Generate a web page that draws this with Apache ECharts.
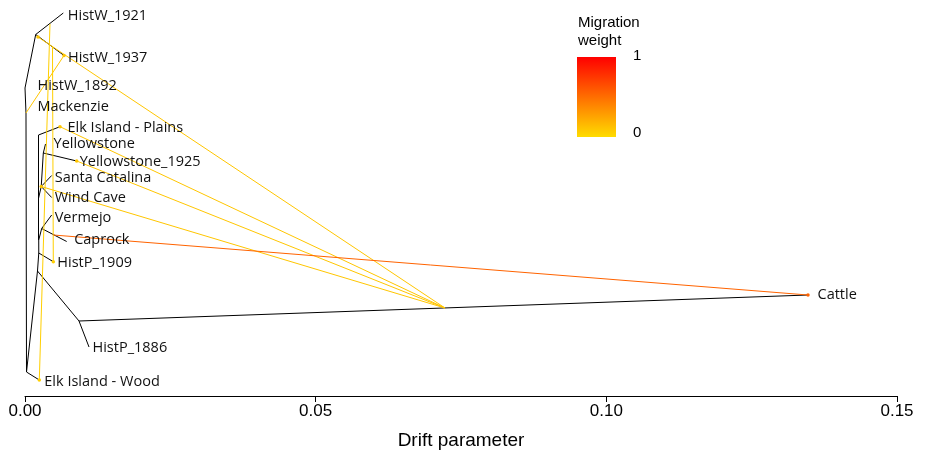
<!DOCTYPE html>
<html><head><meta charset="utf-8">
<script src="https://cdn.jsdelivr.net/npm/echarts@6/dist/echarts.min.js"></script>
<style>html,body{margin:0;padding:0;background:#fff}#c{width:926px;height:455px}</style>
</head><body><div id="c"></div>
<script>
// ---- tree nodes (drift parameter, vertical layout position) ----
const nodeNames = ['R','T1','C','A','HistW_1921','HistW_1937','HistW_1892','Mackenzie','Elk Island - Wood','E','F','HistP_1886','Cattle','L','Elk Island - Plains','V1','N','Santa Catalina','Wind Cave','O','Yellowstone','Yellowstone_1925','V2','I','Vermejo','Caprock','V3','HistP_1909'];
const nodeDrift = [0.00026,0.00017,0.00000,0.00184,0.00659,0.00671,0.00120,0.00120,0.00246,0.00215,0.00929,0.01101,0.13469,0.00232,0.00602,0.00234,0.00279,0.00459,0.00459,0.00315,0.00353,0.00889,0.00236,0.00287,0.00459,0.00717,0.00237,0.00487];
const nodeY     = [372,113,88,34.5,13,55.5,86,106,380,271,321,347,295,135,126.7,198,186.5,175.5,197.5,153,144,161,240,228.5,215,241.5,253,261.7];
// ---- tree edges (parent, child) ----
const treeEdges = [['R','T1'],['T1','C'],['C','A'],['A','HistW_1921'],['A','HistW_1937'],['R','Elk Island - Wood'],['R','E'],['E','F'],['F','HistP_1886'],['F','Cattle'],['E','V3'],['V3','HistP_1909'],['V3','V2'],['V2','I'],['I','Vermejo'],['I','Caprock'],['V2','V1'],['V1','N'],['N','Santa Catalina'],['N','Wind Cave'],['N','O'],['O','Yellowstone'],['O','Yellowstone_1925'],['V1','L'],['L','Elk Island - Plains']];
// ---- leaves shown with labels ----
const leafNames = ['HistW_1921','HistW_1937','HistW_1892','Mackenzie','Elk Island - Plains','Yellowstone','Yellowstone_1925','Santa Catalina','Wind Cave','Vermejo','Caprock','HistP_1909','Cattle','HistP_1886','Elk Island - Wood'];
// ---- migration edges ----
const migFromDrift = [0.07225,0.07225,0.07225,0.07225,0.00017,0.00430,0.00473,0.00487];
const migFromY     = [308,308,308,308,113,24,46,235];
const migToDrift   = [0.00224,0.00602,0.00889,0.00279,0.00671,0.00246,0.00487,0.13469];
const migToY       = [37,126.7,161,186.5,55.5,380,261.7,295];
const migWeight    = [0.1,0.1,0.1,0.1,0.1,0.06,0.06,0.55];
const xTicks = [0, 0.05, 0.10, 0.15];

// label style (gap from tip, vertical nudge)
const labelShift = {
 'HistW_1921':[4.5,2.5],'HistW_1937':[4,2],'HistW_1892':[5.5,0],'Mackenzie':[5.5,0.5],
 'Elk Island - Plains':[7.5,0.7],'Yellowstone':[8,-0.5],'Yellowstone_1925':[3,0.7],
 'Santa Catalina':[3,2.8],'Wind Cave':[3,0.8],'Vermejo':[3,3.3],'Caprock':[7.5,-1.5],
 'HistP_1909':[4,1],'Cattle':[9.5,0],'HistP_1886':[3.5,1],'Elk Island - Wood':[5,1.5]
};

function migColor(w){
  const c0=[255,220,0], c1=[255,0,0];
  const c=c0.map((v,i)=>Math.round(v+(c1[i]-v)*w));
  return 'rgb('+c.join(',')+')';
}
const idx = n => nodeNames.indexOf(n);
const pt = n => [nodeDrift[idx(n)], nodeY[idx(n)]];

const treeData = treeEdges.map(e => ({coords:[pt(e[0]), pt(e[1])]}));
const migData = migWeight.map((w,i)=>({coords:[[migFromDrift[i],migFromY[i]],[migToDrift[i],migToY[i]]], lineStyle:{color:migColor(w)}}));
const arrowData = migWeight.map((w,i)=>({value:[migToDrift[i],migToY[i]], itemStyle:{color:migColor(w), opacity:1}}));
const leafData = leafNames.map(n=>{
  const s = labelShift[n]||[5,0];
  return {value:pt(n), name:n, label:{distance:s[0], offset:[0,s[1]]}};
});

const chart = echarts.init(document.getElementById('c'), null, {renderer:'canvas'});
chart.setOption({
  animation:false,
  backgroundColor:'#fff',
  grid:{left:25, right:29, top:0, bottom:59},
  xAxis:{type:'value', min:xTicks[0], max:xTicks[xTicks.length-1], interval:0.05, position:'bottom',
    axisLine:{show:true, onZero:false, lineStyle:{color:'#000', width:1}},
    axisTick:{show:true, length:6, lineStyle:{color:'#000'}},
    splitLine:{show:false},
    axisLabel:{color:'#000', fontSize:17, fontFamily:'Liberation Sans', margin:7, formatter:v=>v.toFixed(2)},
    name:'Drift parameter', nameLocation:'middle', nameGap:35,
    nameTextStyle:{color:'#000', fontSize:19, fontFamily:'Liberation Sans'}},
  yAxis:{type:'value', min:0, max:396, inverse:true, show:false},
  series:[
    {type:'lines', coordinateSystem:'cartesian2d', silent:true, z:2, polyline:false,
     lineStyle:{color:'#000', width:1, opacity:1, curveness:0}, data:treeData},
    {type:'lines', coordinateSystem:'cartesian2d', silent:true, z:3, polyline:false,
     lineStyle:{width:1, opacity:1, curveness:0}, data:migData},
    {type:'scatter', silent:true, z:4, symbol:'circle', symbolSize:3.5, itemStyle:{opacity:1}, data:arrowData},
    {type:'scatter', silent:true, z:5, symbolSize:0, itemStyle:{opacity:1}, data:leafData,
     label:{show:true, position:'right', formatter:p=>p.name, color:'#111', opacity:1, fontSize:14.5, fontFamily:'Open Sans'}}
  ],
  graphic:[
    {type:'text', x:578, y:23, style:{text:'Migration', font:'15px "Liberation Sans"', fill:'#000', verticalAlign:'middle'}},
    {type:'text', x:578, y:41, style:{text:'weight', font:'15px "Liberation Sans"', fill:'#000', verticalAlign:'middle'}},
    {type:'rect', shape:{x:577, y:57, width:39, height:80},
     style:{fill:new echarts.graphic.LinearGradient(0,0,0,1,[{offset:0,color:migColor(1)},{offset:1,color:migColor(0)}])}},
    {type:'text', x:633, y:56, style:{text:'1', font:'15px "Liberation Sans"', fill:'#000', verticalAlign:'middle'}},
    {type:'text', x:633, y:133, style:{text:'0', font:'15px "Liberation Sans"', fill:'#000', verticalAlign:'middle'}}
  ]
});
</script></body></html>
